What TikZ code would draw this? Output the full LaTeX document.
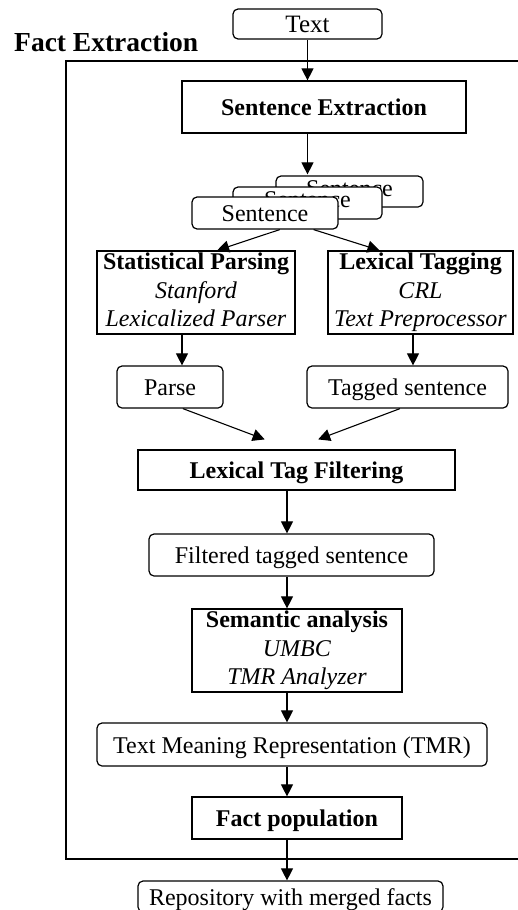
\documentclass[tikz,border=0pt]{standalone}
\usepackage{fontspec}
\setmainfont{Liberation Serif}
\usetikzlibrary{arrows.meta,calc}
\begin{document}
\begin{tikzpicture}[x=1pt,y=-1pt,
  sbox/.style={draw=black,line width=1.2pt,fill=white,inner sep=0pt,
    font=\fontsize{24}{28.5}\selectfont,text height=17pt,text depth=0pt},
  bbox/.style={sbox,font=\fontsize{24}{28.5}\selectfont\bfseries},
  rbox/.style={sbox,rounded corners=5pt},
  mbox/.style={draw=black,line width=1.2pt,fill=white,inner sep=0pt,align=center,
    font=\fontsize{24}{28.5}\selectfont},
  arr/.style={-{Triangle[length=12pt,width=12pt]},line width=1.1pt}
]
\useasboundingbox (0,0) rectangle (518,910);
% frame
\draw[line width=1.3pt] (530,61) -- (66,61) -- (66,859) -- (530,859);
\node[anchor=base west,inner sep=0pt,font=\fontsize{27.5}{30}\selectfont\bfseries] (title) at (14,51) {Fact Extraction};

\node[rbox,minimum width=149pt,minimum height=30pt,font=\fontsize{25}{28.5}\selectfont] (txt) at (307.5,24) {Text};
\node[bbox,minimum width=284pt,minimum height=52pt] (se) at (324,107) {Sentence Extraction};

\node[rbox,minimum width=147pt,minimum height=31pt,text height=9pt] (sentC) at (349.5,191.5) {Sentence};
\node[rbox,minimum width=149pt,minimum height=32pt,text height=8pt] (sentB) at (307.5,203) {Sentence};
\node[rbox,minimum width=146pt,minimum height=32pt] (sentA) at (265,213) {Sentence};

\node[mbox,minimum width=198pt,minimum height=83pt] (sp) at (196,292.5)
  {\textbf{Statistical Parsing}\\\textit{Stanford}\\\textit{Lexicalized Parser}\vphantom{y}};
\node[mbox,minimum width=185pt,minimum height=83pt] (lt) at (420.5,292.5)
  {\textbf{Lexical Tagging}\\\textit{CRL}\\\textit{Text Preprocessor}\vphantom{y}};

\node[rbox,minimum width=106pt,minimum height=42pt] (parse) at (170,387) {Parse};
\node[rbox,minimum width=201pt,minimum height=42pt] (tag) at (407.5,387) {Tagged sentence};

\node[bbox,minimum width=317pt,minimum height=40pt] (ltf) at (296.5,470) {Lexical Tag Filtering};
\node[rbox,minimum width=285pt,minimum height=42pt] (filt) at (291.5,555) {Filtered tagged sentence};

\node[mbox,minimum width=210pt,minimum height=83pt] (sem) at (297,650.5)
  {\textbf{Semantic analysis}\\\textit{UMBC}\\\textit{TMR Analyzer}\vphantom{y}};

\node[rbox,minimum width=390pt,minimum height=43pt] (tmr) at (292,744.5) {Text Meaning Representation (TMR)};
\node[bbox,minimum width=210pt,minimum height=42pt] (fp) at (297,818) {Fact population};
\node[rbox,minimum width=305pt,minimum height=31pt] (repo) at (290.5,896.5) {Repository with merged facts};

% connectors
\coordinate (cx) at (287,0);
\coordinate (cl) at (182,0);
\coordinate (cr) at (413,0);
\draw[arr] (txt.south) -- (txt.south |- se.north);
\draw[arr] (se.south -| txt.south) -- ([yshift=1pt]sentC.north -| txt.south);
\draw[arr] ($(sentA.south west)!0.6!(sentA.south east)$) -- ($(sp.north west)!0.606!(sp.north east)$);
\draw[arr] ($(sentA.south west)!0.83!(sentA.south east)$) -- ($(lt.north west)!0.28!(lt.north east)$);
\draw[arr] (sp.south -| cl) -- (parse.north -| cl);
\draw[arr] (lt.south -| cr) -- (tag.north -| cr);
\draw[arr] ($(parse.south west)!0.62!(parse.south east)$) -- ($(ltf.north west)!0.4!(ltf.north east)+(0,-10)$);
\draw[arr] ($(tag.south west)!0.463!(tag.south east)$) -- ($(ltf.north west)!0.568!(ltf.north east)+(0,-10)$);
\draw[arr] (ltf.south -| cx) -- (filt.north -| cx);
\draw[arr] (filt.south -| cx) -- (sem.north -| cx);
\draw[arr] (sem.south -| cx) -- (tmr.north -| cx);
\draw[arr] (tmr.south -| cx) -- (fp.north -| cx);
\draw[arr] (fp.south -| cx) -- (repo.north -| cx);
\end{tikzpicture}
\end{document}
